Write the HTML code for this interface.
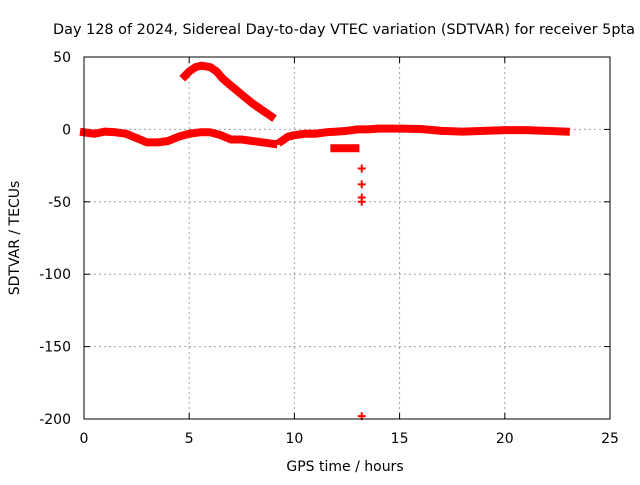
<!DOCTYPE html>
<html><head><meta charset="utf-8"><style>
body{margin:0;background:#fff}
text{font-family:"DejaVu Sans","Liberation Sans",sans-serif;font-size:14px;fill:#000}
</style></head><body>
<svg id="chart" width="640" height="480" xmlns="http://www.w3.org/2000/svg">
<text x="344" y="34" text-anchor="middle" textLength="582" lengthAdjust="spacingAndGlyphs">Day 128 of 2024, Sidereal Day-to-day VTEC variation (SDTVAR) for receiver 5pta</text>
<text x="345" y="471" text-anchor="middle">GPS time / hours</text>
<text transform="translate(19,238) rotate(-90)" text-anchor="middle">SDTVAR / TECUs</text>
<g id="grid"></g><g id="series"></g>
<rect x="84" y="57" width="526" height="362" fill="none" stroke="#000" stroke-width="1"/>
</svg>
<script>
const xTicks=[0,5,10,15,20,25];
const yTicks=[50,0,-50,-100,-150,-200];
const mainT=[0,0.5,1,1.5,2,2.5,3,3.5,4,4.5,5,5.5,6,6.5,7,7.5,8,8.5,9];
const mainV=[-2,-3,-1.5,-2,-3,-6,-9,-9,-8,-5,-3,-2,-2,-4,-7,-7,-8,-9,-10];
const main2T=[9.4,9.7,10,10.5,11,11.5,12,12.5,13,13.5,14,14.5,15,16,17,18,19,20,21,22,22.9];
const main2V=[-8,-5,-4,-3,-3,-2,-1.5,-1,0,0,0.5,0.5,0.5,0.3,-1,-1.5,-1,-0.5,-0.5,-1,-1.5];
const arcT=[4.8,5,5.3,5.6,6,6.3,6.6,7,7.5,8,8.5,8.9];
const arcV=[37,40,43,44,43,40,35,30,24,18,13,9];
const segT=[11.9,12.9];
const segV=[-13,-13];
const ptT=[9.1,13.2,13.2,13.2,13.2,13.2];
const ptV=[-10,-27,-38,-47,-50,-198];
const X=t=>84+t*526/25, Y=v=>129.4-v*1.448;
const NS='http://www.w3.org/2000/svg';
const g=document.getElementById('grid'), s=document.getElementById('series');
function el(tag,attrs,parent){const e=document.createElementNS(NS,tag);for(const k in attrs)e.setAttribute(k,attrs[k]);parent.appendChild(e);return e;}
xTicks.forEach(t=>{const x=X(t);
 if(t>0&&t<25){const l=el('line',{x1:x,x2:x,y1:57,y2:419,stroke:'#a0a0a0','stroke-dasharray':'2,3'},g);
 
 }
 el('line',{x1:x,x2:x,y1:419,y2:413,stroke:'#000'},g);el('line',{x1:x,x2:x,y1:57,y2:63,stroke:'#000'},g);
 const tx=el('text',{x:x,y:443,'text-anchor':'middle'},g);tx.textContent=t;
 
 });
yTicks.forEach(v=>{const y=Y(v);
 if(v<50&&v>-200){const l=el('line',{x1:84,x2:610,y1:y,y2:y,stroke:'#a0a0a0','stroke-dasharray':'2,3'},g);
 
 }
 el('line',{x1:84,x2:90,y1:y,y2:y,stroke:'#000'},g);el('line',{x1:610,x2:604,y1:y,y2:y,stroke:'#000'},g);
 const tx=el('text',{x:71,y:y+5,'text-anchor':'end'},g);tx.textContent=v;
 
 });
function line(T,V,name){const p=el('polyline',{points:T.map((t,i)=>X(t)+','+Y(V[i])).join(' '),fill:'none',stroke:'#ff0000','stroke-width':8,'stroke-linejoin':'round','stroke-linecap':'square'},s);
 
 }
line(mainT,mainV,'sdtvar-series-main');
line(main2T,main2V,'sdtvar-series-main-late');
line(arcT,arcV,'sdtvar-series-arc');
line(segT,segV,'sdtvar-series-segment');
ptT.forEach((t,i)=>{const x=X(t),y=Y(ptV[i]);
 const p=el('path',{d:`M${x-4},${y}H${x+4}M${x},${y-4}V${y+4}`,stroke:'#ff0000','stroke-width':2},s);
 
 });
</script>
</body></html>
